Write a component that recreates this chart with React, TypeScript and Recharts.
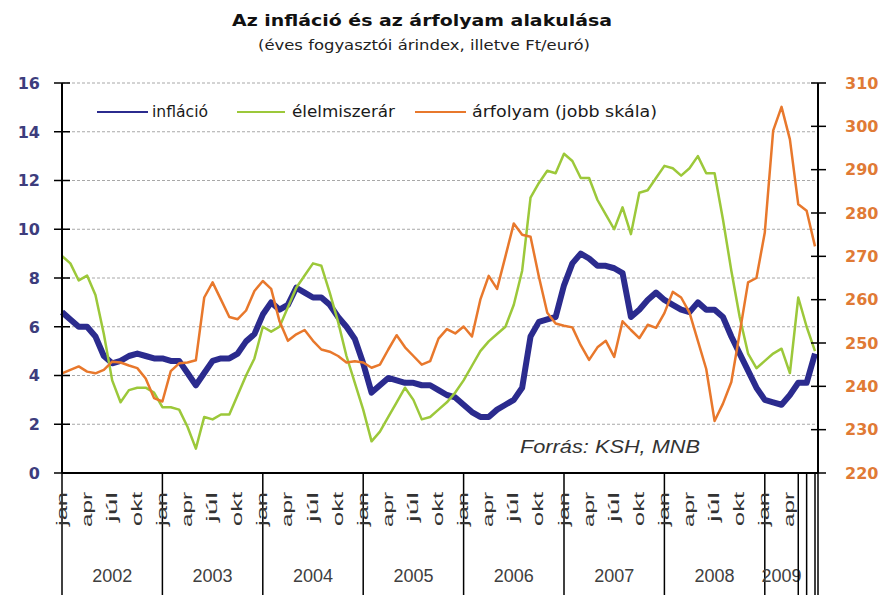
import React from 'react';
import { LineChart, Line, XAxis, YAxis, CartesianGrid, Legend } from 'recharts';

const MONTHS = ['jan', 'feb', 'már', 'apr', 'máj', 'jún', 'júl', 'aug', 'szep', 'okt', 'nov', 'dec'];
const YEARS = ['2002', '2003', '2004', '2005', '2006', '2007', '2008', '2009'];
const SHOWN_MONTHS = ['jan', 'apr', 'júl', 'okt'];
const SERIES_NAMES = ['infláció', 'élelmiszerár', 'árfolyam (jobb skála)'];
const LEFT_TICKS = [0, 2, 4, 6, 8, 10, 12, 14, 16];
const RIGHT_TICKS = [220, 230, 240, 250, 260, 270, 280, 290, 300, 310];

// éves fogyasztói árindex (%), 2002 jan – 2009 júl
const INFLATION = [
  6.6, 6.3, 6.0, 6.0, 5.6, 4.8, 4.5, 4.6, 4.8, 4.9, 4.8, 4.7,
  4.7, 4.6, 4.6, 4.1, 3.6, 4.1, 4.6, 4.7, 4.7, 4.9, 5.4, 5.7,
  6.5, 7.0, 6.7, 6.9, 7.6, 7.4, 7.2, 7.2, 6.9, 6.4, 6.0, 5.5,
  4.5, 3.3, 3.6, 3.9, 3.8, 3.7, 3.7, 3.6, 3.6, 3.4, 3.2, 3.1,
  2.8, 2.5, 2.3, 2.3, 2.6, 2.8, 3.0, 3.5, 5.6, 6.2, 6.3, 6.4,
  7.7, 8.6, 9.0, 8.8, 8.5, 8.5, 8.4, 8.2, 6.4, 6.7, 7.1, 7.4,
  7.1, 6.9, 6.7, 6.6, 7.0, 6.7, 6.7, 6.4, 5.6, 4.9, 4.2, 3.5,
  3.0, 2.9, 2.8, 3.2, 3.7, 3.7, 4.9,
];

// élelmiszerár (%)
const FOOD = [
  8.9, 8.6, 7.9, 8.1, 7.3, 5.7, 3.8, 2.9, 3.4, 3.5, 3.5, 3.3,
  2.7, 2.7, 2.6, 1.9, 1.0, 2.3, 2.2, 2.4, 2.4, 3.2, 4.0, 4.7,
  6.0, 5.8, 6.0, 6.8, 7.6, 8.1, 8.6, 8.5, 7.4, 6.2, 4.8, 3.7,
  2.6, 1.3, 1.7, 2.3, 2.9, 3.5, 3.0, 2.2, 2.3, 2.6, 2.9, 3.3,
  3.8, 4.4, 5.0, 5.4, 5.7, 6.0, 6.9, 8.3, 11.3, 11.9, 12.4, 12.3,
  13.1, 12.8, 12.1, 12.1, 11.2, 10.6, 10.0, 10.9, 9.8, 11.5, 11.6, 12.1,
  12.6, 12.5, 12.2, 12.5, 13.0, 12.3, 12.3, 10.4, 8.3, 6.4, 4.9, 4.3,
  4.6, 4.9, 5.1, 4.1, 7.2, 6.0, 5.0,
];

// árfolyam (Ft/euró, jobb skála)
const FX = [
  243.0, 243.8, 244.6, 243.4, 243.0, 243.8, 245.7, 245.5, 244.8, 244.2, 241.8, 237.3,
  236.5, 243.5, 245.3, 245.5, 246.0, 260.5, 264.0, 260.0, 256.0, 255.5, 257.5, 262.0,
  264.3, 262.5, 255.0, 250.5, 252.0, 253.0, 250.5, 248.5, 248.0, 247.0, 245.5, 245.8,
  245.5, 244.3, 245.0, 248.5, 251.8, 249.0, 247.0, 245.0, 245.8, 251.0, 253.2, 252.2,
  253.8, 251.5, 260.0, 265.5, 262.5, 270.0, 277.6, 275.0, 274.5, 265.3, 257.0, 254.5,
  254.0, 253.6, 249.5, 246.1, 249.0, 250.5, 246.8, 255.0, 253.0, 251.1, 254.2, 253.5,
  256.9, 261.8, 260.5, 257.0, 250.5, 244.0, 232.0, 236.0, 241.0, 252.3, 264.0, 265.0,
  275.5, 299.0, 304.5, 297.0, 282.0, 280.5, 272.3,
];

const COLORS = { infl: '#2b2b8e', food: '#9cc83a', fx: '#e8782c' };
const PAD_R = 3;
const AXIS_H = 122;

const data = INFLATION.map((v, i) => ({
  label: `${YEARS[Math.floor(i / 12)]}-${MONTHS[i % 12]}`,
  year: YEARS[Math.floor(i / 12)],
  month: MONTHS[i % 12],
  infl: v,
  food: FOOD[i],
  fx: FX[i],
}));

const MONTH_LEN: Record<string, number> = { jan: 34, apr: 35, 'júl': 30, okt: 34 };

const XTick = (props: any) => {
  const { x, y } = props;
  const index: number = props.index ?? props.payload?.index ?? 0;
  const d = data[index];
  if (!d) return null;
  const m = index % 12;
  const last = data.length - 1;
  const els: any[] = [];
  if (m === 0 || index >= 88) {
    els.push(<line key="sep" x1={x} x2={x} y1={y} y2={y + AXIS_H} stroke="#000" strokeWidth={1.5} />);
  }
  if (index === last) {
    els.push(<line key="rsep" x1={x + PAD_R} x2={x + PAD_R} y1={y} y2={y + AXIS_H} stroke="#000" strokeWidth={1.5} />);
  }
  if (SHOWN_MONTHS.includes(d.month) && index < 88) {
    els.push(
      <text
        key="m"
        transform={`translate(${x + 4.5},${y + 19}) rotate(-90)`}
        textAnchor="end"
        fontSize={14}
        fontFamily="'Liberation Sans', Arial, sans-serif"
        fill="#333"
        textLength={MONTH_LEN[d.month]}
        lengthAdjust="spacingAndGlyphs"
      >
        {d.month}
      </text>
    );
  }
  if ((m === 6 && index < 84) || index === 86) {
    els.push(
      <text key="y" x={x} y={y + 109} textAnchor="middle" fontSize={18}
        fontFamily="'Liberation Sans', Arial, sans-serif" fill="#404040">
        {d.year}
      </text>
    );
  }
  return <g>{els}</g>;
};

const LeftTick = (props: any) => {
  const { x, y, payload } = props;
  return (
    <g>
      <line x1={x - 8} x2={x + 8} y1={y} y2={y} stroke="#000" strokeWidth={1.5} />
      <text x={x - 22} y={y} dy="0.36em" textAnchor="end" fontFamily="'DejaVu Sans', sans-serif"
        fontWeight="bold" fontSize={16} fill="#3d3d7d">{payload.value}</text>
    </g>
  );
};

const RightTick = (props: any) => {
  const { x, y, payload } = props;
  return (
    <g>
      <line x1={x - 7} x2={x + 8} y1={y} y2={y} stroke="#000" strokeWidth={1.5} />
      <text x={x + 27} y={y} dy="0.36em" textAnchor="start" fontFamily="'DejaVu Sans', sans-serif"
        fontWeight="bold" fontSize={16} fill="#e07a35">{payload.value}</text>
    </g>
  );
};

const LegendBox = () => {
  const items = [
    { name: SERIES_NAMES[0], color: COLORS.infl, x0: 7, x1: 58, tx: 62, tl: 56 },
    { name: SERIES_NAMES[1], color: COLORS.food, x0: 147, x1: 195, tx: 202, tl: 103 },
    { name: SERIES_NAMES[2], color: COLORS.fx, x0: 325, x1: 376, tx: 382, tl: 185 },
  ];
  return (
    <svg width={600} height={30}>
      {items.map((it) => (
        <g key={it.name}>
          <line x1={it.x0} x2={it.x1} y1={14} y2={14} stroke={it.color} strokeWidth={2} />
          <text x={it.tx} y={19} fontFamily="'DejaVu Sans', sans-serif" fontSize={15} fill="#1a1a1a"
            textLength={it.tl} lengthAdjust="spacingAndGlyphs">{it.name}</text>
        </g>
      ))}
    </svg>
  );
};

export default function App() {
  return (
    <div style={{ position: 'absolute', left: 0, top: 0, width: 887, height: 595, background: '#fff' }}>
      <LineChart width={887} height={595} data={data} margin={{ top: 83, right: 0, bottom: 0, left: 0 }}>
        <CartesianGrid yAxisId="left" vertical={false} stroke="#a8a8a8" strokeDasharray="3 2" />
        <XAxis
          dataKey="label"
          type="category"
          scale="point"
          interval={0}
          height={AXIS_H}
          padding={{ left: 0, right: PAD_R }}
          tickSize={0}
          tickMargin={0}
          tickLine={false}
          axisLine={{ stroke: '#000', strokeWidth: 2 }}
          tick={<XTick />}
        />
        <YAxis
          yAxisId="left"
          orientation="left"
          width={62}
          domain={[0, 16]}
          ticks={LEFT_TICKS}
          interval={0}
          tickSize={0}
          tickMargin={0}
          tickLine={false}
          axisLine={{ stroke: '#000', strokeWidth: 2 }}
          tick={<LeftTick />}
        />
        <YAxis
          yAxisId="right"
          orientation="right"
          width={69}
          domain={[220, 310]}
          ticks={RIGHT_TICKS}
          interval={0}
          tickSize={0}
          tickMargin={0}
          tickLine={false}
          axisLine={{ stroke: '#000', strokeWidth: 2 }}
          tick={<RightTick />}
        />
        <Legend
          layout="horizontal"
          verticalAlign="middle"
          align="center"
          wrapperStyle={{ position: 'absolute', left: 90, top: 98, width: 600, height: 30 }}
          content={() => <LegendBox />}
        />
        <Line yAxisId="left" type="linear" dataKey="infl" name={SERIES_NAMES[0]} stroke={COLORS.infl}
          strokeWidth={6} dot={false} isAnimationActive={false} strokeLinejoin="round" />
        <Line yAxisId="left" type="linear" dataKey="food" name={SERIES_NAMES[1]} stroke={COLORS.food}
          strokeWidth={2.5} dot={false} isAnimationActive={false} strokeLinejoin="round" />
        <Line yAxisId="right" type="linear" dataKey="fx" name={SERIES_NAMES[2]} stroke={COLORS.fx}
          strokeWidth={2.5} dot={false} isAnimationActive={false} strokeLinejoin="round" />
      </LineChart>
      <svg width={887} height={595} style={{ position: 'absolute', left: 0, top: 0, pointerEvents: 'none' }}>
        <text x={422} y={26} textAnchor="middle" fontFamily="'DejaVu Sans', sans-serif" fontWeight="bold"
          fontSize={15} fill="#111" textLength={380} lengthAdjust="spacingAndGlyphs">
          Az infláció és az árfolyam alakulása
        </text>
        <text x={424} y={50} textAnchor="middle" fontFamily="'DejaVu Sans', sans-serif"
          fontSize={14} fill="#222" textLength={332} lengthAdjust="spacingAndGlyphs">
          (éves fogyasztói árindex, illetve Ft/euró)
        </text>
        <text x={520} y={453} fontFamily="'Liberation Sans', Arial, sans-serif" fontStyle="italic"
          fontSize={18} fill="#333" textLength={180} lengthAdjust="spacingAndGlyphs">
          Forrás: KSH, MNB
        </text>
      </svg>
    </div>
  );
}
